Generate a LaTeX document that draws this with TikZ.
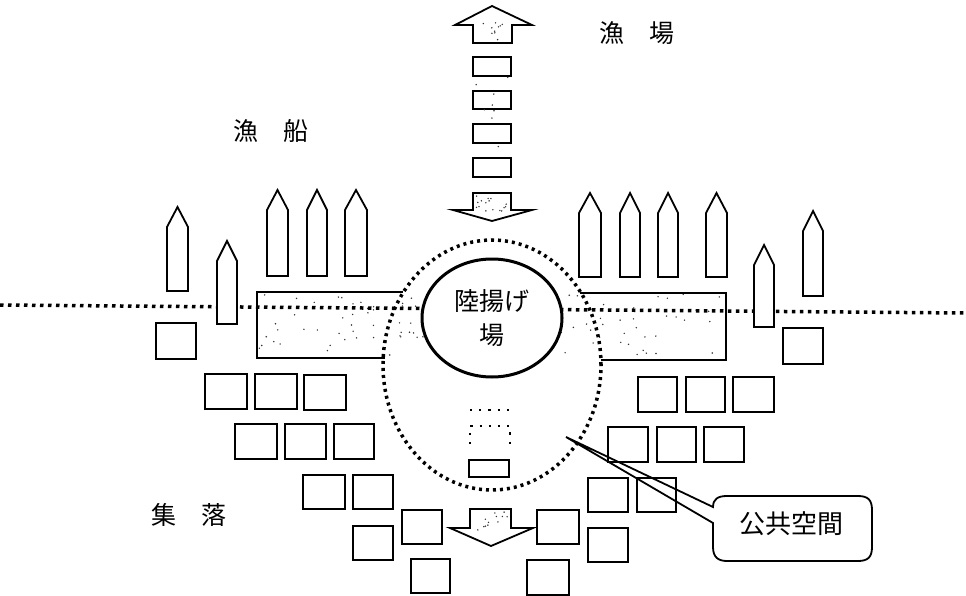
\documentclass[tikz,border=0pt]{standalone}
\usepackage{fontspec}
\newfontfamily\cjk{Noto Sans CJK JP}
\usetikzlibrary{shapes.geometric}
\newcommand\stipple[5]{% x1 y1 x2 y2 n
  \foreach \i in {1,...,#5}{%
    \pgfmathsetmacro\sx{#1+rnd*(#3-#1)}%
    \pgfmathsetmacro\sy{#2+rnd*(#4-#2)}%
    \fill[black!80] (\sx,\sy) circle[radius=0.8pt];}}
\begin{document}
\begin{tikzpicture}[x=1pt,y=-1pt,
  outl/.style={draw=black, line width=1.8pt, fill=white, line join=miter},
  bandline/.style={draw=black, line width=1.8pt},
  shoreline/.style={draw=black, line width=3.5pt, dash pattern=on 3.5pt off 4.5pt},
  ringline/.style={draw=black, line width=3.5pt, dash pattern=on 3pt off 4pt},
  faintline/.style={draw=black, line width=2.2pt, dash pattern=on 2.2pt off 7pt},
  lbl/.style={font=\cjk\fontsize{25}{30}\selectfont, inner sep=0pt},
  callout/.style={draw=black, line width=1.8pt}
]
\useasboundingbox (0,0) rectangle (966,596);
\fill[white] (0,0) rectangle (966,596);
\pgfmathsetseed{11}

% stippled bands
\stipple{259}{294}{724}{356}{110}
\draw[bandline] (403,292) -- (257,292) -- (257,358) -- (385,358);
\draw[bandline] (580,293) -- (726,293) -- (726,360) -- (601,360);

% shoreline
\coordinate (shoreW) at (0,305);
\coordinate (shoreE) at (966,313);
\draw[shoreline] (shoreW) -- (shoreE);

% boats
\foreach \a/\b/\t/\bt in {167/188/207/291, 217/237/241/324, 267/288/190/276,
  307/327/190/276, 345/367/190/276, 579/601/193/277, 620/640/193/277,
  658/678/193/277, 706/727/193/277, 754/774/245/327, 803/823/211/296}{
  \draw[outl] (\a,\bt) -- (\a,{\t+20}) -- ({(\a+\b)/2},\t) -- (\b,{\t+20}) -- (\b,\bt) -- cycle;}

% houses
\foreach \a/\b/\c/\d in {156/323/196/359,
  205/374/247/409, 255/374/297/409, 304/375/346/410,
  235/424/277/459, 285/424/326/459, 334/424/374/459,
  303/475/345/509, 353/475/393/509,
  402/510/442/544, 353/526/393/560, 411/559/450/593,
  783/328/823/364,
  638/377/677/412, 686/377/725/412, 733/377/774/412,
  608/427/648/462, 657/427/696/462, 704/427/744/462,
  588/478/628/512, 637/478/676/512,
  537/510/579/544, 588/528/628/562, 527/560/569/595}{
  \draw[outl] (\a,\b) rectangle (\c,\d);}

% arrows
\draw[outl] (492,6) -- (532,25) -- (512,25) -- (512,43) -- (473,43) -- (473,25) -- (455,25) -- cycle;
\stipple{476}{22}{509}{41}{10}
\draw[outl] (473,193) -- (511,193) -- (511,210) -- (532,210) -- (492,221) -- (453,210) -- (473,210) -- cycle;
\stipple{476}{196}{508}{214}{16}
\draw[outl] (470,509) -- (511,509) -- (511,528) -- (533,528) -- (491,546) -- (450,528) -- (470,528) -- cycle;
\stipple{474}{512}{508}{532}{12}

% route rectangles
\foreach \t/\bt in {57/76, 91/109, 124/143, 158/177}{
  \draw[outl] (473,\t) rectangle (511,\bt);}
\stipple{476}{60}{508}{174}{8}

% faint continuation in the centre
\draw[faintline] (470,410) -- (510,410);
\draw[faintline] (470,444) -- (470,426) -- (510,426) -- (510,444);
\draw[outl] (469,460) rectangle (509,477);

% public space ring
\draw[ringline] (492,365) ellipse [x radius=109pt, y radius=125pt];

% landing place
\node[ellipse, draw=black, line width=3pt, fill=white, minimum width=140pt,
  minimum height=118pt, inner sep=0pt, align=center,
  font=\cjk\fontsize{25}{34}\selectfont] (landing) at (492,318) {陸揚げ\\場};

% callout
\coordinate (tip) at (566,437);
\fill[white, rounded corners=14pt] (713,496) rectangle (872,561);
\draw[callout] (tip) -- (713,507) .. controls (713,499) and (718,496) .. (727,496)
  -- (858,496) .. controls (868,496) and (872,500) .. (872,510)
  -- (872,547) .. controls (872,557) and (868,561) .. (858,561)
  -- (727,561) .. controls (718,561) and (713,557) .. (713,547)
  -- (713,523) -- cycle;
\node[lbl, font=\cjk\fontsize{26}{30}\selectfont] (pub) at (791,524) {公共空間};

% labels
\node[lbl] (ground) at (637,33) {漁　場};
\node[lbl] (boats) at (271,131) {漁　船};
\node[lbl] (village) at (189,515) {集　落};
\end{tikzpicture}
\end{document}
